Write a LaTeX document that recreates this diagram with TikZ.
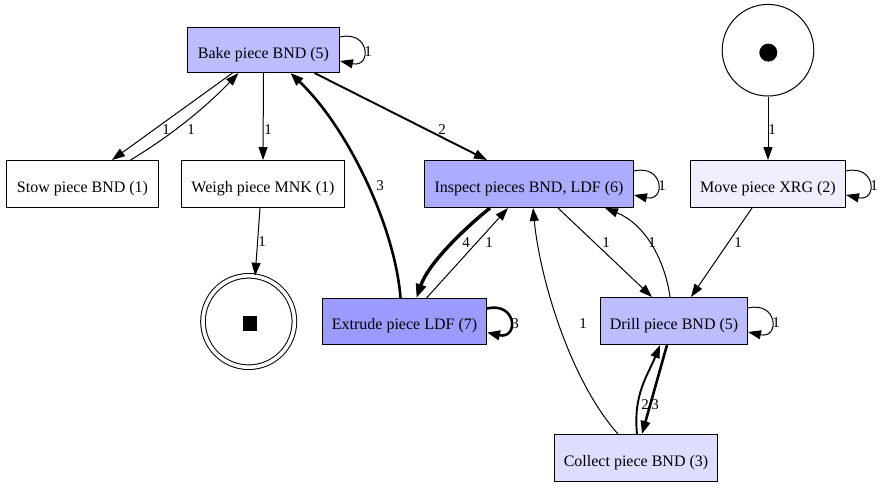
\documentclass[tikz,border=0pt]{standalone}
\usepackage{fontspec}
\setmainfont{Liberation Serif}
\newfontfamily\gvfont{Liberation Serif}
\usetikzlibrary{arrows.meta,calc}
\definecolor{cBake}{RGB}{188,188,255}
\definecolor{cIns}{RGB}{171,171,255}
\definecolor{cExt}{RGB}{155,155,255}
\definecolor{cCol}{RGB}{221,221,255}
\definecolor{cMov}{RGB}{238,238,255}
\newcommand{\sloop}[4]{%
  \draw[#2] ($(#1.east)+(0,-13)$) .. controls +(30,-7) and +(32,7) .. ($(#1.east)+(0,11)$);
  \node[lbl] (#3) at ($(#1.east)+(28,2)$) {#4};}
\begin{document}
\begin{tikzpicture}[x=1pt,y=-1pt,
  trans/.style={draw=black, line width=1pt, rectangle, inner sep=0pt, minimum height=47pt, text height=16pt, text depth=0pt, font=\gvfont\fontsize{16}{19}\selectfont},
  place/.style={draw=black, line width=1pt, circle, inner sep=0pt},
  lbl/.style={inner sep=0pt, font=\gvfont\fontsize{15}{18}\selectfont},
  arc/.style={draw=black, line width=1pt, -{Triangle[length=13pt,width=9pt]}},
  arcB/.style={draw=black, line width=1.9pt, -{Triangle[length=13pt,width=9pt]}},
  arcC/.style={draw=black, line width=2.6pt, -{Triangle[length=13pt,width=9.5pt]}},
  arcD/.style={draw=black, line width=3.4pt, -{Triangle[length=14pt,width=10pt]}},
]
\useasboundingbox (0,0) rectangle (884,488);
\fill[white] (0,0) rectangle (884,488);

% transitions
\node[trans, fill=cBake, minimum width=152pt, minimum height=45pt] (bake) at (263.5,50) {Bake piece BND (5)};
\node[trans, fill=white, minimum width=152pt] (stow) at (82.5,184) {Stow piece BND (1)};
\node[trans, fill=white, minimum width=163pt] (weigh) at (263,184) {Weigh piece MNK (1)};
\node[trans, fill=cIns, minimum width=209pt] (inspect) at (529,184) {Inspect pieces BND, LDF (6)};
\node[trans, fill=cMov, minimum width=155pt] (move) at (768,184) {Move piece XRG (2)};
\node[trans, fill=cExt, minimum width=164pt, minimum height=46pt] (extrude) at (404.5,321.5) {Extrude piece LDF (7)};
\node[trans, fill=cBake, minimum width=147pt] (drill) at (674,321) {Drill piece BND (5)};
\node[trans, fill=cCol, minimum width=163pt] (collect) at (636,458) {Collect piece BND (3)};

% places
\node[place, minimum size=91.6pt] (start) at (768,50.2) {};
\node[circle, fill=black, inner sep=0pt, minimum size=18pt] (token) at (768.3,52.6) {};
\node[place, double, double distance=3.6pt, minimum size=91.4pt] (end) at (248.7,321.5) {};
\node[fill=black, inner sep=0pt, minimum size=14.5pt] (endmark) at (250,323.5) {};

% arcs
\draw[arc] ($(bake.south)+(-31,0)$) -- ($(stow.north)+(29.5,0)$);
\node[lbl] (l1) at (166,130) {1};
\draw[arc] ($(stow.north)+(48,0)$) .. controls +(40,-24) and +(-32.5,34) .. ($(bake.south)+(-25,0)$);
\node[lbl] (l2) at (191,130) {1};
\draw[arc] (bake.south) -- (weigh.north);
\node[lbl] (l3) at (268,130) {1};
\draw[arcB] ($(bake.south)+(51,0)$) -- ($(inspect.north)+(-42,0)$);
\node[lbl] (l4) at (442,130) {2};
\draw[arcC] ($(extrude.north)+(-4,0)$) .. controls +(-5,-68) and +(59.5,57) .. ($(bake.south)+(27,0)$);
\node[lbl] (l5) at (380,186) {3};
\draw[arc] ($(weigh.south)+(-3,0)$) -- (end.82);
\node[lbl] (l6) at (262,242) {1};
\draw[arcD] ($(inspect.south)+(-39,0)$) .. controls +(-25,20) and +(12,-35) .. ($(extrude.north)+(12,0)$);
\node[lbl] (l7) at (466,243) {4};
\draw[arc] ($(extrude.north)+(22,0)$) -- ($(inspect.south)+(-21,0)$);
\node[lbl] (l8) at (489,243) {1};
\draw[arc] ($(inspect.south)+(29,0)$) -- ($(drill.north)+(-22,0)$);
\node[lbl] (l9) at (606,243) {1};
\draw[arc] ($(drill.north)+(-4,0)$) .. controls +(-5,-37) and +(40,16) .. ($(inspect.south)+(76,0)$);
\node[lbl] (l10) at (652,243) {1};
\draw[arc] ($(move.south)+(-16,0)$) -- ($(drill.north)+(17,0)$);
\node[lbl] (l11) at (738,243) {1};
\draw[arc] (start.south) -- (move.north);
\node[lbl] (l12) at (772,130) {1};
\draw[arc] ($(collect.north)+(-18,0)$) .. controls +(-48,-54) and +(7,71) .. ($(inspect.south)+(4,0)$);
\node[lbl] (l13) at (583,324) {1};
\draw[arcB] ($(collect.north)+(1,0)$) .. controls +(-4,-40) and +(-12,30) .. ($(drill.south)+(-14,0)$);
\node[lbl] (l14) at (645,405) {2};
\draw[arcC] ($(drill.south)+(-7,0)$) -- ($(collect.north)+(6,0)$);
\node[lbl] (l15) at (655,405) {3};

% self loops
\sloop{bake}{arc}{l16}{1}
\sloop{inspect}{arc}{l17}{1}
\sloop{move}{arc}{l18}{1}
\sloop{drill}{arc}{l19}{1}
\sloop{extrude}{arcC}{l20}{3}
\end{tikzpicture}
\end{document}
